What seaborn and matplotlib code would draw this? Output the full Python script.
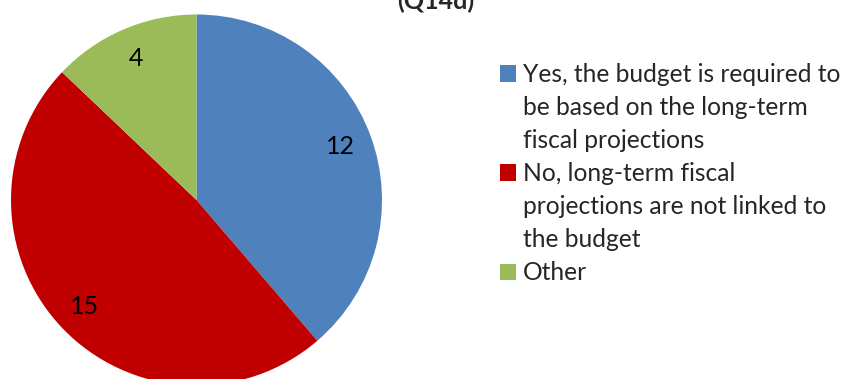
import matplotlib
matplotlib.use("Agg")
import matplotlib.pyplot as plt
from matplotlib.patches import Patch
import seaborn as sns

# Survey responses (Q14d)
categories = [
    "Yes, the budget is required to be based on the long-term fiscal projections",
    "No, long-term fiscal projections are not linked to the budget",
    "Other",
]
legend_lines = [
    ["Yes, the budget is required to", "be based on the long-term", "fiscal projections"],
    ["No, long-term fiscal", "projections are not linked to", "the budget"],
    ["Other"],
]
counts = [12, 15, 4]
colors = ["#4F81BD", "#C00000", "#9BBB59"]
title = "(Q14d)"

sns.set_theme(style="white")
plt.rcParams["font.family"] = ["Lato", "DejaVu Sans"]
palette = sns.color_palette(colors)

W, H = 844, 379
fig = plt.figure(figsize=(W / 100, H / 100), dpi=100)
fig.patch.set_facecolor("white")

# Pie axes: square box in pixel units
cx, cy, r = 196.5, 200.0, 185.5
ax = fig.add_axes([(cx - r) / W, 1 - (cy + r) / H, 2 * r / W, 2 * r / H])
wedges, texts, autotexts = ax.pie(
    counts,
    colors=palette,
    startangle=90,
    counterclock=False,
    autopct=lambda p: f"{round(p * sum(counts) / 100):d}",
    pctdistance=0.83,
    wedgeprops=dict(linewidth=0, edgecolor="none"),
    textprops=dict(fontsize=18, color="black"),
)
ax.set_xlim(-1, 1)
ax.set_ylim(-1, 1)
ax.axis("off")

# Legend: one row per text line, swatch on the first line of each entry
handles, labels = [], []
for col, lines in zip(palette, legend_lines):
    for i, line in enumerate(lines):
        if i == 0:
            handles.append(Patch(facecolor=col, edgecolor="none"))
        else:
            handles.append(Patch(facecolor="none", edgecolor="none"))
        labels.append(line)

fig.legend(
    handles, labels,
    loc="upper left",
    bbox_to_anchor=(500 / W, 1 - 63 / H),
    frameon=False,
    fontsize=17.7,
    handlelength=0.66,
    handleheight=0.66,
    handletextpad=0.28,
    labelspacing=0.41,
    borderpad=0,
    borderaxespad=0,
)

fig.text(436 / W, 1 - 9 / H, title, ha="center", va="baseline",
         fontsize=18, fontweight="bold")

fig.savefig("out.png", dpi=100, facecolor="white")
